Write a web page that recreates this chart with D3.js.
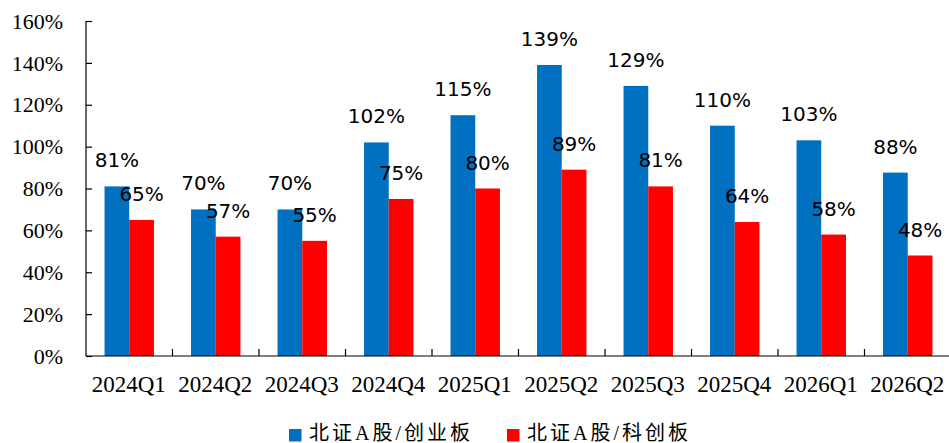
<!DOCTYPE html>
<html><head><meta charset="utf-8">
<script src="https://cdn.jsdelivr.net/npm/d3@7"></script>
<style>
html,body{margin:0;padding:0;background:#fff;}
svg{display:block;}
</style></head>
<body>
<svg id="chart" width="949" height="443"></svg>
<script>
const categories = ["2024Q1","2024Q2","2024Q3","2024Q4","2025Q1","2025Q2","2025Q3","2025Q4","2026Q1","2026Q2"];
const seriesNames = ["北证A股/创业板","北证A股/科创板"];
const seriesA = [0.81,0.70,0.70,1.02,1.15,1.39,1.29,1.10,1.03,0.876];
const seriesB = [0.65,0.57,0.55,0.75,0.80,0.89,0.81,0.64,0.58,0.48];
const yTicks = [0,0.2,0.4,0.6,0.8,1.0,1.2,1.4,1.6];
const colors = ["#0070C0","#FF0000"];

(function(){
const svg = d3.select("#chart");
const pL = 86, pR = 951, pT = 21, pB = 356;

const x = d3.scaleBand().domain(categories).range([pL, pR]).padding(0);
const xs = d3.scaleBand().domain([0,1]).range([0, x.bandwidth()]).paddingInner(0).paddingOuter(0.75);
const y = d3.scaleLinear().domain([0,1.6]).range([pB, pT]);
const fmt = d3.format(".0%");

const series = [seriesA, seriesB];
series.forEach((vals, si) => {
  svg.append("g").selectAll("rect").data(vals).join("rect")
    .attr("x", (d,i) => x(categories[i]) + xs(si))
    .attr("y", d => y(d))
    .attr("width", xs.bandwidth())
    .attr("height", d => pB - y(d))
    .attr("fill", colors[si]);
});

series.forEach((vals, si) => {
  svg.append("g").selectAll("text").data(vals).join("text")
    .attr("x", (d,i) => x(categories[i]) + xs(si) + xs.bandwidth()/2)
    .attr("y", d => y(d) - 19)
    .attr("text-anchor","middle")
    .attr("font-family","'DejaVu Sans', sans-serif")
    .attr("font-size", 20)
    .attr("fill","#000")
    .text(d => fmt(d));
});

const yAxis = d3.axisRight(y).tickValues(yTicks).tickSize(6).tickFormat("");
const yg = svg.append("g").attr("transform",`translate(${pL},0)`).call(yAxis);
yg.select(".domain").attr("d", `M0,${pT}V${pB}`).attr("stroke","#000").attr("stroke-width",1.2);
yg.selectAll(".tick line").attr("stroke","#000").attr("stroke-width",1.2);
svg.append("g").selectAll("text").data(yTicks).join("text")
  .attr("x", 63).attr("y", d => y(d)).attr("dy","0.35em")
  .attr("text-anchor","end")
  .attr("font-family","'Liberation Serif', serif").attr("font-size",22).attr("fill","#000")
  .text(d => fmt(d));

svg.append("line").attr("x1",pL).attr("x2",pR).attr("y1",pB).attr("y2",pB)
  .attr("stroke","#000").attr("stroke-width",1.2);
svg.append("g").selectAll("line").data(categories.slice(1)).join("line")
  .attr("x1", d => x(d)).attr("x2", d => x(d))
  .attr("y1", pB).attr("y2", pB - 7)
  .attr("stroke","#000").attr("stroke-width",1.2);
svg.append("g").selectAll("text").data(categories).join("text")
  .attr("x", d => x(d) + x.bandwidth()/2 - 0.5).attr("y", 392)
  .attr("text-anchor","middle")
  .attr("font-family","'Liberation Serif', serif").attr("font-size",23).attr("fill","#000")
  .text(d => d);

const legendX = [289, 507];
const lg = svg.append("g");
seriesNames.forEach((n, i) => {
  lg.append("rect").attr("x", legendX[i]).attr("y", 429).attr("width",12.5).attr("height",12.5).attr("fill",colors[i]);
  lg.append("text").attr("x", legendX[i] + 20).attr("y", 440)
    .attr("font-family","'Liberation Serif','Noto Sans CJK SC', serif")
    .attr("font-size",20).attr("letter-spacing","3px").attr("fill","#000")
    .text(n);
});
})();
</script>
</body></html>
